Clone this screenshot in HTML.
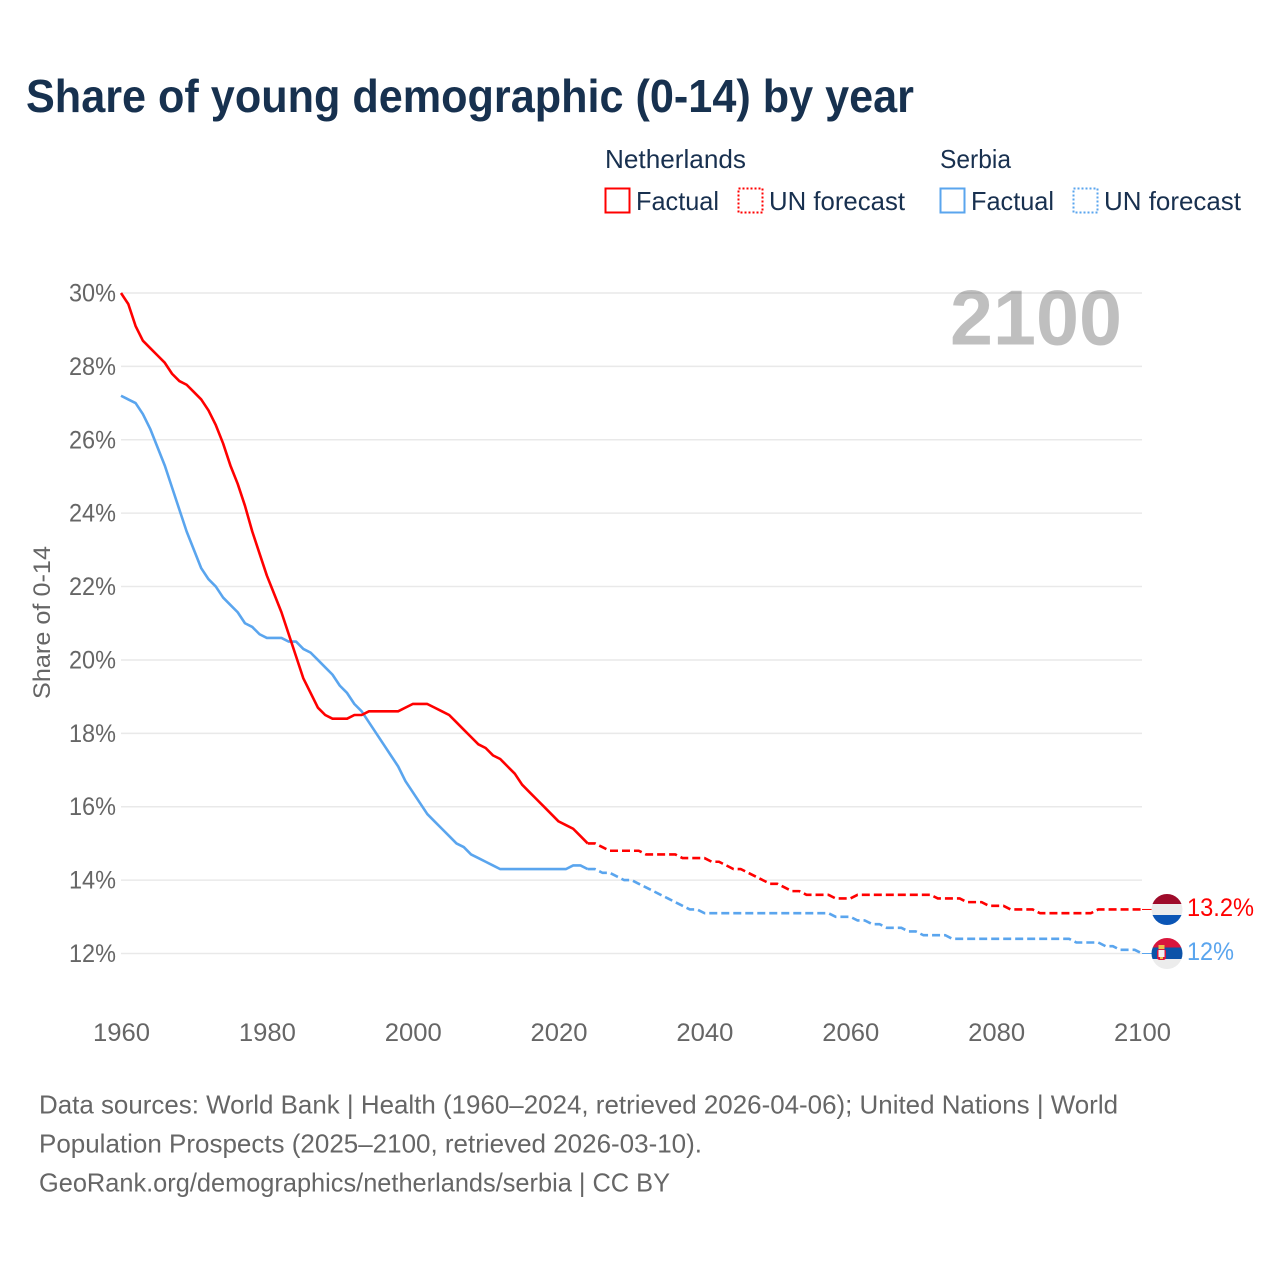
<!DOCTYPE html>
<html lang="en">
<head>
<meta charset="utf-8">
<title>Share of young demographic (0-14) by year</title>
<style>
html,body{margin:0;padding:0;background:#fff;width:1280px;height:1280px;overflow:hidden}
svg{display:block;font-family:"Liberation Sans",sans-serif}
</style>
</head>
<body>
<svg id="chart" xmlns="http://www.w3.org/2000/svg" width="1280" height="1280" viewBox="0 0 1280 1280">
  <defs>
    <clipPath id="clip-nl"><circle cx="1167" cy="909.5" r="15.5"/></clipPath>
    <clipPath id="clip-rs"><circle cx="1167" cy="953.5" r="15.5"/></clipPath>
  </defs>

  <text x="26" y="112" font-size="46" font-weight="700" fill="#17314f" textLength="888" lengthAdjust="spacingAndGlyphs">Share of young demographic (0-14) by year</text>

  <g font-size="26" fill="#18304f">
    <text x="605" y="168" textLength="141" lengthAdjust="spacingAndGlyphs">Netherlands</text>
    <text x="940" y="168" textLength="71" lengthAdjust="spacingAndGlyphs">Serbia</text>
    <rect x="605.5" y="188.5" width="24" height="24" fill="none" stroke="#ff0000" stroke-width="2"/>
    <text x="636" y="210" textLength="83" lengthAdjust="spacingAndGlyphs">Factual</text>
    <rect x="738.5" y="188.5" width="24" height="24" fill="none" stroke="#ff0000" stroke-width="2" stroke-dasharray="2 2"/>
    <text x="769" y="210" textLength="136" lengthAdjust="spacingAndGlyphs">UN forecast</text>
    <rect x="940.5" y="188.5" width="24" height="24" fill="none" stroke="#5aa5ee" stroke-width="2"/>
    <text x="971" y="210" textLength="83" lengthAdjust="spacingAndGlyphs">Factual</text>
    <rect x="1073.5" y="188.5" width="24" height="24" fill="none" stroke="#5aa5ee" stroke-width="2" stroke-dasharray="2 2"/>
    <text x="1104" y="210" textLength="137" lengthAdjust="spacingAndGlyphs">UN forecast</text>
  </g>

  <g id="grid"></g>
  <g id="y-labels" font-size="25" fill="#666666"></g>
  <g id="x-labels" font-size="25" fill="#666666"></g>

  <text transform="translate(50,622.5) rotate(-90)" text-anchor="middle" font-size="24" fill="#666666" textLength="153" lengthAdjust="spacingAndGlyphs">Share of 0-14</text>

  <text x="950" y="344.5" font-size="78" font-weight="700" fill="#000000" fill-opacity="0.25" textLength="172" lengthAdjust="spacingAndGlyphs">2100</text>

  <g id="series"></g>

  <g clip-path="url(#clip-nl)">
    <rect x="1150" y="893" width="34" height="11" fill="#9e0b2a"/>
    <rect x="1150" y="904" width="34" height="11" fill="#ececec"/>
    <rect x="1150" y="915" width="34" height="11" fill="#0b55b5"/>
  </g>
  <g clip-path="url(#clip-rs)">
    <rect x="1150" y="937" width="34" height="10.5" fill="#d9173d"/>
    <rect x="1150" y="947.5" width="34" height="11.5" fill="#0c53a8"/>
    <rect x="1150" y="959" width="34" height="11" fill="#ececec"/>
    <rect x="1157" y="949" width="9" height="11" rx="2.5" fill="#d9173d"/>
    <rect x="1158.5" y="950" width="6" height="7" fill="#f2f2f2"/>
    <rect x="1158.5" y="945" width="6" height="4" fill="#edc24a"/>
    <rect x="1160" y="957" width="3" height="2" fill="#edc24a"/>
  </g>

  <text x="1187" y="916" font-size="25" fill="#ff0000" textLength="67" lengthAdjust="spacingAndGlyphs">13.2%</text>
  <text x="1187" y="960" font-size="25" fill="#5aa5ee" textLength="47" lengthAdjust="spacingAndGlyphs">12%</text>

  <g font-size="26" fill="#666666">
    <text x="39" y="1113.5" textLength="1079" lengthAdjust="spacingAndGlyphs">Data sources: World Bank | Health (1960–2024, retrieved 2026-04-06); United Nations | World</text>
    <text x="39" y="1152.5" textLength="663" lengthAdjust="spacingAndGlyphs">Population Prospects (2025–2100, retrieved 2026-03-10).</text>
    <text x="39" y="1191.5" textLength="631" lengthAdjust="spacingAndGlyphs">GeoRank.org/demographics/netherlands/serbia | CC BY</text>
  </g>
</svg>

<script>
var yTicks = [12, 14, 16, 18, 20, 22, 24, 26, 28, 30];
var yTickLabels = ["12%", "14%", "16%", "18%", "20%", "22%", "24%", "26%", "28%", "30%"];
var xTicks = [1960, 1980, 2000, 2020, 2040, 2060, 2080, 2100];
var xTickLabels = ["1960", "1980", "2000", "2020", "2040", "2060", "2080", "2100"];

var factualStartYear = 1960;
var forecastStartYear = 2024;

var netherlandsFactual = [
  30.0,29.7,29.1,28.7,28.5,28.3,28.1,27.8,27.6,27.5,
  27.3,27.1,26.8,26.4,25.9,25.3,24.8,24.2,23.5,22.9,
  22.3,21.8,21.3,20.7,20.1,19.5,19.1,18.7,18.5,18.4,
  18.4,18.4,18.5,18.5,18.6,18.6,18.6,18.6,18.6,18.7,
  18.8,18.8,18.8,18.7,18.6,18.5,18.3,18.1,17.9,17.7,
  17.6,17.4,17.3,17.1,16.9,16.6,16.4,16.2,16.0,15.8,
  15.6,15.5,15.4,15.2,15.0
];
var netherlandsForecast = [
  15.0,15.0,14.9,14.8,14.8,14.8,
  14.8,14.8,14.7,14.7,14.7,14.7,14.7,14.6,14.6,14.6,
  14.6,14.5,14.5,14.4,14.3,14.3,14.2,14.1,14.0,13.9,
  13.9,13.8,13.7,13.7,13.6,13.6,13.6,13.6,13.5,13.5,
  13.5,13.6,13.6,13.6,13.6,13.6,13.6,13.6,13.6,13.6,
  13.6,13.6,13.5,13.5,13.5,13.5,13.4,13.4,13.4,13.3,
  13.3,13.3,13.2,13.2,13.2,13.2,13.1,13.1,13.1,13.1,
  13.1,13.1,13.1,13.1,13.2,13.2,13.2,13.2,13.2,13.2,
  13.2
];
var serbiaFactual = [
  27.2,27.1,27.0,26.7,26.3,25.8,25.3,24.7,24.1,23.5,
  23.0,22.5,22.2,22.0,21.7,21.5,21.3,21.0,20.9,20.7,
  20.6,20.6,20.6,20.5,20.5,20.3,20.2,20.0,19.8,19.6,
  19.3,19.1,18.8,18.6,18.3,18.0,17.7,17.4,17.1,16.7,
  16.4,16.1,15.8,15.6,15.4,15.2,15.0,14.9,14.7,14.6,
  14.5,14.4,14.3,14.3,14.3,14.3,14.3,14.3,14.3,14.3,
  14.3,14.3,14.4,14.4,14.3
];
var serbiaForecast = [
  14.3,14.3,14.2,14.2,14.1,14.0,
  14.0,13.9,13.8,13.7,13.6,13.5,13.4,13.3,13.2,13.2,
  13.1,13.1,13.1,13.1,13.1,13.1,13.1,13.1,13.1,13.1,
  13.1,13.1,13.1,13.1,13.1,13.1,13.1,13.1,13.0,13.0,
  13.0,12.9,12.9,12.8,12.8,12.7,12.7,12.7,12.6,12.6,
  12.5,12.5,12.5,12.5,12.4,12.4,12.4,12.4,12.4,12.4,
  12.4,12.4,12.4,12.4,12.4,12.4,12.4,12.4,12.4,12.4,
  12.4,12.3,12.3,12.3,12.3,12.2,12.2,12.1,12.1,12.1,
  12.0
];

var NS = "http://www.w3.org/2000/svg";

function xScale(year) { return 121 + (year - 1960) * (1142 - 121) / 140; }
function yScale(v) { return 953.5 - (v - 12) * (953.5 - 293) / 18; }

function linePath(values, startYear) {
  var d = "";
  for (var i = 0; i < values.length; i++) {
    d += (i ? "L" : "M") + xScale(startYear + i).toFixed(2) + " " + yScale(values[i]).toFixed(2);
  }
  return d;
}

var gridGroup = document.getElementById("grid");
var yLabelGroup = document.getElementById("y-labels");
var xLabelGroup = document.getElementById("x-labels");
var seriesGroup = document.getElementById("series");

yTicks.forEach(function (tick, i) {
  var line = document.createElementNS(NS, "line");
  
  
  line.setAttribute("x1", xScale(1960));
  line.setAttribute("x2", xScale(2100));
  line.setAttribute("y1", yScale(tick));
  line.setAttribute("y2", yScale(tick));
  line.setAttribute("stroke", "#e9e9e9");
  line.setAttribute("stroke-width", "1.5");
  gridGroup.appendChild(line);

  var label = document.createElementNS(NS, "text");
  
  
  label.setAttribute("x", 116);
  label.setAttribute("y", yScale(tick) + 8.5);
  label.setAttribute("text-anchor", "end");
  label.setAttribute("textLength", "47");
  label.setAttribute("lengthAdjust", "spacingAndGlyphs");
  label.textContent = yTickLabels[i];
  yLabelGroup.appendChild(label);
});

xTicks.forEach(function (tick, i) {
  var label = document.createElementNS(NS, "text");
  
  
  label.setAttribute("x", xScale(tick) + 0.5);
  label.setAttribute("y", 1041);
  label.setAttribute("text-anchor", "middle");
  label.setAttribute("textLength", "57");
  label.setAttribute("lengthAdjust", "spacingAndGlyphs");
  label.textContent = xTickLabels[i];
  xLabelGroup.appendChild(label);
});

function addLine(name, values, startYear, color, dashed) {
  var path = document.createElementNS(NS, "path");
  
  
  path.setAttribute("d", linePath(values, startYear));
  path.setAttribute("fill", "none");
  path.setAttribute("stroke", color);
  path.setAttribute("stroke-width", "2.6");
  path.setAttribute("stroke-linejoin", "round");
  if (dashed) { path.setAttribute("stroke-dasharray", "8 4"); }
  seriesGroup.appendChild(path);
}

function addConnector(name, value, color) {
  var line = document.createElementNS(NS, "line");
  
  
  line.setAttribute("x1", xScale(2100));
  line.setAttribute("x2", xScale(2100) + 10);
  line.setAttribute("y1", yScale(value));
  line.setAttribute("y2", yScale(value));
  line.setAttribute("stroke", color);
  line.setAttribute("stroke-width", "1");
  seriesGroup.appendChild(line);
}

addLine("line-serbia-factual", serbiaFactual, factualStartYear, "#5aa5ee", false);
addLine("line-serbia-forecast", serbiaForecast, forecastStartYear, "#5aa5ee", true);
addLine("line-netherlands-factual", netherlandsFactual, factualStartYear, "#ff0000", false);
addLine("line-netherlands-forecast", netherlandsForecast, forecastStartYear, "#ff0000", true);
addConnector("connector-netherlands", netherlandsForecast[netherlandsForecast.length - 1], "#ff0000");
addConnector("connector-serbia", serbiaForecast[serbiaForecast.length - 1], "#5aa5ee");
</script>
</body>
</html>
